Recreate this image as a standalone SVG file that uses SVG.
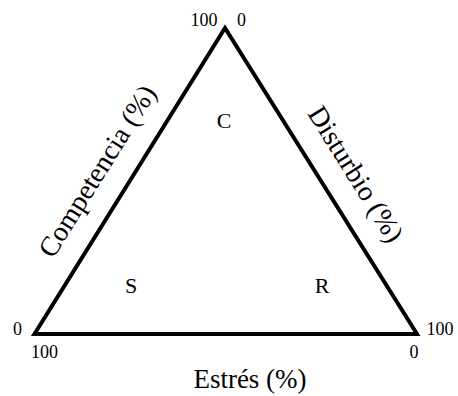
<svg xmlns="http://www.w3.org/2000/svg" width="458" height="396" viewBox="0 0 458 396">
<style>
text{font-family:"Liberation Serif","DejaVu Serif","Times New Roman",serif;fill:#000}
.t{font-size:18px}
.l{font-size:22px}
.a{font-size:28px}
</style>
<rect width="458" height="396" fill="#fff"/>
<g id="triangle">
<polygon points="225,28 34.5,334 417,334" fill="none" stroke="#000" stroke-width="4" stroke-linejoin="miter"/>
</g>
<g id="ticks">
<text class="t" x="204" y="26" text-anchor="middle">100</text>
<text class="t" x="241.5" y="26" text-anchor="middle">0</text>
<text class="t" x="17.5" y="335" text-anchor="middle">0</text>
<text class="t" x="44.5" y="358" text-anchor="middle">100</text>
<text class="t" x="440" y="335" text-anchor="middle">100</text>
<text class="t" x="414" y="358" text-anchor="middle">0</text>
</g>
<g id="C"><text class="l" x="224" y="128" text-anchor="middle">C</text></g>
<g id="S"><text class="l" x="131" y="293" text-anchor="middle">S</text></g>
<g id="R"><text class="l" x="322" y="293" text-anchor="middle">R</text></g>
<g id="axis-competencia"><text class="a" text-anchor="middle" transform="translate(105,176) rotate(-58)">Competencia (%)</text></g>
<g id="axis-disturbio"><text class="a" text-anchor="middle" transform="translate(348,179) rotate(58)">Disturbio (%)</text></g>
<g id="axis-estres"><text class="a" x="250" y="388" text-anchor="middle" style="font-size:27px">Estrés (%)</text></g>
</svg>
